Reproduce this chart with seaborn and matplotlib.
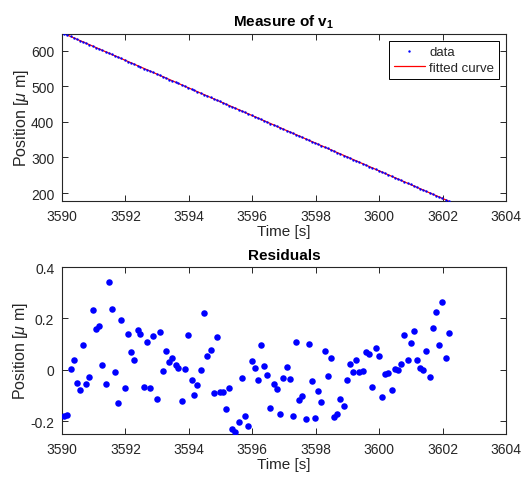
#!/usr/bin/env python3
"""
Position vs time with a linear fit (top) and the fit residuals (bottom).
"""
import numpy as np
import pandas as pd
import seaborn as sns
import matplotlib
matplotlib.use("Agg")
import matplotlib.pyplot as plt

# sample times [s] and residuals of the linear fit [um]
time_s = [
    3590.06, 3590.17, 3590.27, 3590.37, 3590.46, 3590.58, 3590.67, 3590.76, 3590.86, 3590.98,
    3591.08, 3591.17, 3591.26, 3591.38, 3591.47, 3591.57, 3591.68, 3591.77, 3591.87, 3591.99,
    3592.09, 3592.17, 3592.28, 3592.39, 3592.47, 3592.59, 3592.68, 3592.77, 3592.87, 3592.99,
    3593.09, 3593.18, 3593.28, 3593.39, 3593.48, 3593.58, 3593.67, 3593.78, 3593.87, 3593.98,
    3594.09, 3594.17, 3594.27, 3594.39, 3594.49, 3594.58, 3594.69, 3594.79, 3594.89, 3594.97,
    3595.08, 3595.17, 3595.28, 3595.35, 3595.47, 3595.57, 3595.67, 3595.77, 3595.88, 3595.99,
    3596.08, 3596.18, 3596.28, 3596.38, 3596.48, 3596.57, 3596.68, 3596.78, 3596.88, 3596.98,
    3597.09, 3597.18, 3597.29, 3597.38, 3597.47, 3597.57, 3597.69, 3597.78, 3597.89, 3597.98,
    3598.08, 3598.18, 3598.29, 3598.38, 3598.48, 3598.58, 3598.68, 3598.78, 3598.89, 3598.99,
    3599.08, 3599.19, 3599.28, 3599.38, 3599.49, 3599.58, 3599.69, 3599.79, 3599.89, 3599.99,
    3600.09, 3600.19, 3600.29, 3600.39, 3600.50, 3600.59, 3600.70, 3600.79, 3600.90, 3600.99,
    3601.09, 3601.20, 3601.29, 3601.39, 3601.49, 3601.59, 3601.70, 3601.80, 3601.90, 3601.99,
    3602.10, 3602.19,
]
residual_um = [
    -0.181, -0.175, 0.002, 0.037, -0.051, -0.078, 0.095, -0.054, -0.028, 0.233,
    0.158, 0.169, 0.019, -0.057, 0.342, 0.237, -0.009, -0.130, 0.193, -0.069,
    0.141, 0.068, 0.038, 0.156, 0.141, -0.068, 0.108, -0.072, 0.133, -0.115,
    0.146, -0.005, 0.073, 0.031, 0.047, 0.019, 0.006, -0.121, 0.002, 0.136,
    -0.040, -0.099, -0.058, 0.000, 0.222, 0.055, 0.077, -0.092, 0.128, -0.088,
    -0.085, -0.151, -0.071, -0.230, -0.244, -0.205, -0.032, -0.178, -0.218, 0.036,
    0.009, -0.038, 0.097, 0.014, -0.021, -0.149, -0.055, -0.076, -0.171, -0.030,
    0.010, -0.035, -0.181, 0.110, -0.118, -0.103, -0.190, 0.101, -0.044, -0.189,
    -0.081, -0.126, 0.072, -0.023, 0.045, -0.183, -0.172, -0.113, -0.139, -0.041,
    0.022, -0.010, 0.038, -0.007, -0.004, 0.068, 0.063, -0.068, 0.086, 0.052,
    -0.105, -0.018, -0.014, -0.078, 0.002, -0.001, 0.022, 0.137, 0.038, 0.104,
    0.150, 0.038, 0.009, -0.001, 0.075, -0.028, 0.163, 0.224, 0.096, 0.264,
    0.045, 0.142,
]

# linear fit: position = slope * (t - t0) + offset
fit_t0 = 3590.0
fit_slope = -38.75      # um / s
fit_offset = 650.0      # um at t0

x_ticks = [3590, 3592, 3594, 3596, 3598, 3600, 3602, 3604]
pos_ticks = [200, 300, 400, 500, 600]
res_ticks = [-0.2, 0, 0.2, 0.4]
res_tick_labels = ["-0.2", "0", "0.2", "0.4"]

AX_COLOR = "#262626"

sns.set_theme(style="ticks", rc={
    "xtick.direction": "in", "ytick.direction": "in",
    "xtick.top": True, "ytick.right": True,
    "xtick.major.size": 4, "ytick.major.size": 4,
    "xtick.major.width": 0.7, "ytick.major.width": 0.7,
    "axes.linewidth": 0.8, "axes.edgecolor": AX_COLOR,
    "xtick.color": AX_COLOR, "ytick.color": AX_COLOR,
    "axes.labelcolor": AX_COLOR, "axes.unicode_minus": False,
})
plt.rcParams["font.family"] = ["Liberation Sans", "DejaVu Sans"]
plt.rcParams["mathtext.fontset"] = "custom"
plt.rcParams["mathtext.rm"] = "Liberation Sans"
plt.rcParams["mathtext.it"] = "Liberation Sans:italic"
plt.rcParams["mathtext.bf"] = "Liberation Sans:bold"

df = pd.DataFrame({"time": time_s, "residual": residual_um})
df["fit"] = fit_slope * (df["time"] - fit_t0) + fit_offset
df["position"] = df["fit"] + df["residual"]


def style_axes(ax, title):
    ax.set_xlim(3590, 3604)
    ax.set_xticks(x_ticks)
    ax.tick_params(labelsize=10, pad=5.5)
    ax.set_xlabel("Time [s]", fontsize=11, labelpad=1)
    ax.set_ylabel(r"Position [$\mu$ m]", fontsize=11.5, labelpad=0)
    ax.set_title(title, fontsize=11, fontweight="bold", color="black", pad=6)
    for side in ax.spines.values():
        side.set_visible(True)


fig = plt.figure(figsize=(5.23, 4.81), dpi=100)
ax_top = fig.add_axes([0.1185, 0.580, 0.849, 0.348])
ax_bot = fig.add_axes([0.1185, 0.0956, 0.849, 0.347])

sns.scatterplot(data=df, x="time", y="position", ax=ax_top, color="blue",
                s=3, linewidth=0, label="data", zorder=3)
sns.lineplot(data=df, x="time", y="fit", ax=ax_top, color="red",
             linewidth=0.9, label="fitted curve", zorder=2)
ax_top.set_ylim(df["position"].min(), df["position"].max())
ax_top.set_yticks(pos_ticks)
style_axes(ax_top, r"Measure of $\mathbf{v}_\mathbf{1}$")
leg = ax_top.legend(loc="upper right", fontsize=9.5, frameon=True, fancybox=False,
                    edgecolor="black", framealpha=1, borderaxespad=0.55,
                    handlelength=2.4, handletextpad=0.3, borderpad=0.35,
                    labelspacing=0.3)
leg.get_frame().set_linewidth(0.7)

sns.scatterplot(data=df, x="time", y="residual", ax=ax_bot, color="blue",
                s=22, linewidth=0, zorder=3)
ax_bot.set_ylim(-0.25, 0.4)
ax_bot.set_yticks(res_ticks)
ax_bot.set_yticklabels(res_tick_labels)
style_axes(ax_bot, "Residuals")

fig.savefig("out.png", dpi=100)
